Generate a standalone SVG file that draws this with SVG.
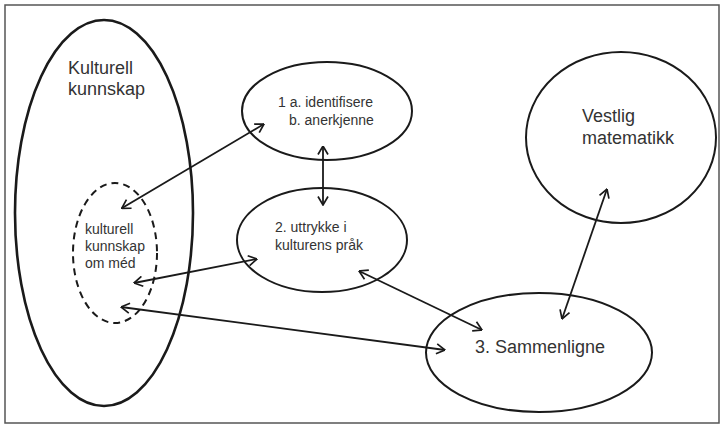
<svg xmlns="http://www.w3.org/2000/svg" width="724" height="425" viewBox="0 0 724 425">
<style>
.node{fill:none;stroke:#1a1a1a;stroke-width:2}
.big{stroke-width:2.6}
.dash{stroke-dasharray:7 5}
.lbl{font-family:"Liberation Sans",Arial,sans-serif;fill:#333}
.l18{font-size:18px}
.l14{font-size:14px}
.conn line{stroke:#1a1a1a;stroke-width:1.8;marker-start:url(#ah);marker-end:url(#ah)}
</style>
<defs>
<marker id="ah" viewBox="0 0 10 12" refX="9.5" refY="6" markerWidth="10" markerHeight="12" markerUnits="userSpaceOnUse" orient="auto-start-reverse">
<path d="M1,1 L9.5,6 L1,11" fill="none" stroke="#1a1a1a" stroke-width="1.7"/>
</marker>
</defs>
<rect x="0" y="0" width="724" height="425" fill="#fff"/>
<rect x="5" y="5" width="714" height="418" fill="none" stroke="#555" stroke-width="1.5"/>
<g id="kulturell-kunnskap">
<ellipse class="node big" cx="104" cy="213" rx="89" ry="193"/>
<text class="lbl l18" x="68" y="74">Kulturell</text>
<text class="lbl l18" x="68" y="95">kunnskap</text>
</g>
<g id="kunnskap-om-med">
<ellipse class="node dash" cx="115" cy="253" rx="42" ry="70"/>
<text class="lbl l14" x="85" y="234">kulturell</text>
<text class="lbl l14" x="85" y="251">kunnskap</text>
<text class="lbl l14" x="85" y="268">om méd</text>
</g>
<g id="identifisere">
<ellipse class="node" cx="327" cy="111" rx="85" ry="49"/>
<text class="lbl l14" x="278" y="107">1 a. identifisere</text>
<text class="lbl l14" x="289" y="125">b. anerkjenne</text>
</g>
<g id="uttrykke">
<ellipse class="node" cx="322" cy="240" rx="85" ry="52"/>
<text class="lbl l14" x="275" y="232">2. uttrykke i</text>
<text class="lbl l14" x="275" y="250">kulturens pråk</text>
</g>
<g id="sammenligne">
<ellipse class="node" cx="539" cy="352.5" rx="113" ry="59.5"/>
<text class="lbl l18" x="475" y="353">3. Sammenligne</text>
</g>
<g id="vestlig-matematikk">
<ellipse class="node" cx="621" cy="137.5" rx="95" ry="85.5"/>
<text class="lbl l18" x="582" y="122">Vestlig</text>
<text class="lbl l18" x="582" y="144">matematikk</text>
</g>
<g id="connectors" class="conn">
<line x1="121.7" y1="208.3" x2="264" y2="124"/>
<line x1="323" y1="146" x2="323" y2="205"/>
<line x1="134" y1="283" x2="257" y2="259"/>
<line x1="121" y1="307" x2="445" y2="350"/>
<line x1="359" y1="271" x2="482" y2="330"/>
<line x1="607" y1="189" x2="562" y2="319"/>
</g>
</svg>
